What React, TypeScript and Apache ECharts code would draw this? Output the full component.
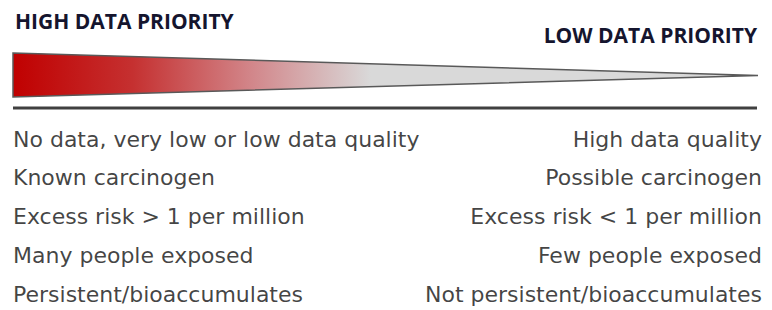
import React, { useEffect, useRef } from "react";
import * as echarts from "echarts";

const headerLeft = "HIGH DATA PRIORITY";
const headerRight = "LOW DATA PRIORITY";
const leftLabels = [
  "No data, very low or low data quality",
  "Known carcinogen",
  "Excess risk > 1 per million",
  "Many people exposed",
  "Persistent/bioaccumulates",
];
const rightLabels = [
  "High data quality",
  "Possible carcinogen",
  "Excess risk < 1 per million",
  "Few people exposed",
  "Not persistent/bioaccumulates",
];

const HEAD_FONT = "'Open Sans', 'Noto Sans', sans-serif";
const FONT = "'DejaVu Sans', 'Open Sans', sans-serif";
const TEXT_COLOR = "#121212";

export default function App() {
  const ref = useRef<HTMLDivElement>(null);
  useEffect(() => {
    if (!ref.current) return;
    const chart = echarts.init(ref.current, null, { renderer: "svg" });
    const leftData = leftLabels.map((t, i) => ({ value: [0, i], name: t }));
    const rightData = rightLabels.map((t, i) => ({ value: [1, i], name: t }));
    chart.setOption({
      animation: false,
      backgroundColor: "#ffffff",
      grid: { left: 13, right: 10, top: 139, height: 155 },
      xAxis: { type: "value", min: 0, max: 1, show: false },
      yAxis: { type: "value", min: 0, max: 4, inverse: true, show: false },
      graphic: [
        {
          type: "text",
          x: 15,
          y: 21,
          style: {
            text: headerLeft,
            fontFamily: HEAD_FONT,
            fontWeight: "bold",
            fontSize: 21,
            fill: "#15152e",
            verticalAlign: "middle",
            align: "left",
          },
        },
        {
          type: "text",
          x: 757,
          y: 35,
          style: {
            text: headerRight,
            fontFamily: HEAD_FONT,
            fontWeight: "bold",
            fontSize: 21,
            fill: "#15152e",
            verticalAlign: "middle",
            align: "right",
          },
        },
        {
          type: "polygon",
          shape: {
            points: [
              [13, 53],
              [758, 75.5],
              [13, 97],
            ],
          },
          style: {
            fill: new echarts.graphic.LinearGradient(0, 0, 1, 0, [
              { offset: 0, color: "#c00000" },
              { offset: 0.16, color: "#c53030" },
              { offset: 0.32, color: "#d2868a" },
              { offset: 0.48, color: "#d9d9d9" },
              { offset: 1, color: "#d9d9d9" },
            ]),
            stroke: "#595959",
            lineWidth: 1.5,
          },
        },
        {
          type: "line",
          shape: { x1: 13, y1: 108, x2: 757, y2: 108 },
          style: { stroke: "#404040", lineWidth: 3 },
        },
      ],
      series: [
        {
          type: "scatter",
          symbolSize: 0,
          data: leftData,
          label: {
            show: true,
            position: "right",
            distance: 0,
            formatter: (p: any) => p.name,
            fontFamily: FONT,
            fontSize: 22,
            color: TEXT_COLOR,
          },
        },
        {
          type: "scatter",
          symbolSize: 0,
          data: rightData,
          label: {
            show: true,
            position: "left",
            distance: 0,
            formatter: (p: any) => p.name,
            fontFamily: FONT,
            fontSize: 22,
            color: TEXT_COLOR,
          },
        },
      ],
    });
    return () => chart.dispose();
  }, []);
  return (
    <div
      ref={ref}
      style={{ position: "absolute", left: 0, top: 0, width: 772, height: 310 }}
    />
  );
}
